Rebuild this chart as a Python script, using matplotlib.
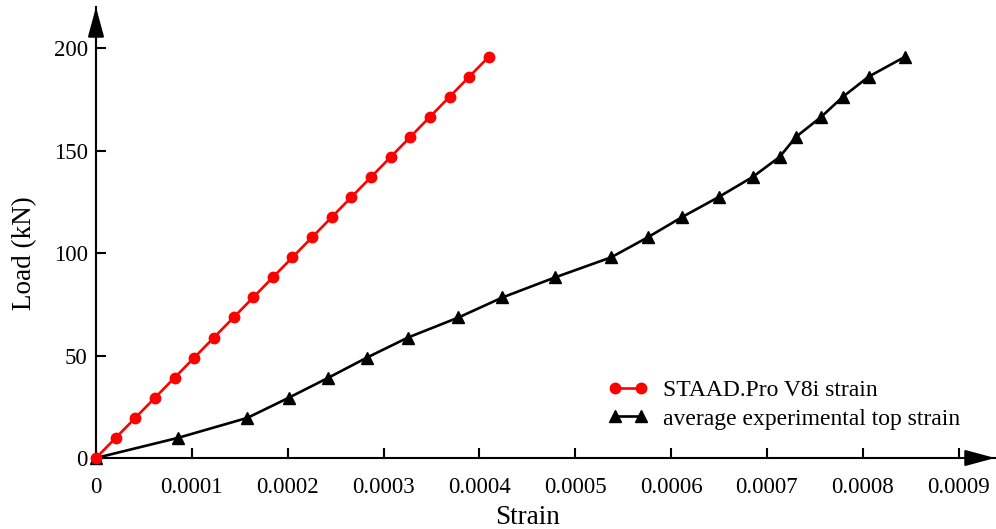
import matplotlib.pyplot as plt
from matplotlib.legend_handler import HandlerLine2D

plt.rcParams['font.family'] = ['Liberation Serif', 'DejaVu Serif']

# load steps (kN), shared by both series
load = [0, 9.8, 19.6, 29.4, 39.2, 49, 58.8, 68.6, 78.4, 88.2, 98,
        107.8, 117.6, 127.4, 137.2, 147, 156.8, 166.6, 176.4, 186.2, 196]

staad_strain = [0, 0.0000205, 0.000041, 0.0000615, 0.000082, 0.0001025, 0.000123,
                0.0001435, 0.000164, 0.0001845, 0.000205, 0.0002255, 0.000246,
                0.0002665, 0.000287, 0.0003075, 0.000328, 0.0003485, 0.000369,
                0.0003895, 0.00041]

exp_strain = [0, 0.0000853, 0.000158, 0.000201, 0.0002425, 0.0002826, 0.0003254,
              0.0003782, 0.0004241, 0.0004791, 0.0005376, 0.0005759, 0.0006114,
              0.0006496, 0.0006851, 0.0007133, 0.0007304, 0.0007568, 0.0007794,
              0.0008062, 0.0008445]

x_ticks = [0, 0.0001, 0.0002, 0.0003, 0.0004, 0.0005, 0.0006, 0.0007, 0.0008, 0.0009]
x_tick_labels = ['0', '0.0001', '0.0002', '0.0003', '0.0004', '0.0005',
                 '0.0006', '0.0007', '0.0008', '0.0009']
y_ticks = [0, 50, 100, 150, 200]

fig = plt.figure(figsize=(9.96, 5.29), dpi=100)
ax = fig.add_axes([96 / 996, 71 / 529, 899 / 996, 451 / 529])

ax.plot(staad_strain, load, '-o', color='#ff0000', lw=1.9, ms=7.5,
        label='STAAD.Pro V8i strain', clip_on=False, zorder=4)
ax.plot(exp_strain, load, '-^', color='black', lw=1.9, ms=9,
        label='average experimental top strain', clip_on=False, zorder=3)

ax.set_xlim(0, 0.000938)
ax.set_ylim(0, 220.2)
ax.set_xticks(x_ticks)
ax.set_xticklabels(x_tick_labels)
ax.set_yticks(y_ticks)
ax.tick_params(direction='in', length=7, width=1.5, labelsize=16.5)
ax.tick_params(axis='x', pad=13.5)
ax.tick_params(axis='y', pad=6)

for side in ['top', 'right']:
    ax.spines[side].set_visible(False)
for side in ['left', 'bottom']:
    ax.spines[side].set_linewidth(1.5)

# arrow heads at the ends of the axes
head = dict(arrowstyle='-|>,head_length=18.5,head_width=5', mutation_scale=1,
            color='black', lw=1.5, shrinkA=0, shrinkB=0)
ax.annotate('', xy=(1, 0), xytext=(0.97, 0), xycoords='axes fraction',
            arrowprops=head, annotation_clip=False)
ax.annotate('', xy=(0, 1), xytext=(0, 0.94), xycoords='axes fraction',
            arrowprops=head, annotation_clip=False)

ax.set_xlabel('Strain', fontsize=19.5)
ax.set_ylabel('Load (kN)', fontsize=19.5)
ax.xaxis.set_label_coords(0.0009 / 2 / 0.000938, -0.105)
ax.yaxis.set_label_coords(-0.066, 100 / 220.2)

ax.legend(loc='upper left', bbox_to_anchor=(0.5535, 0.195), frameon=False,
          fontsize=17, handlelength=2.1, handletextpad=0.45, labelspacing=0.3,
          borderaxespad=0,
          handler_map={plt.Line2D: HandlerLine2D(numpoints=2, marker_pad=0.5)})

fig.savefig('out.png', dpi=100)
